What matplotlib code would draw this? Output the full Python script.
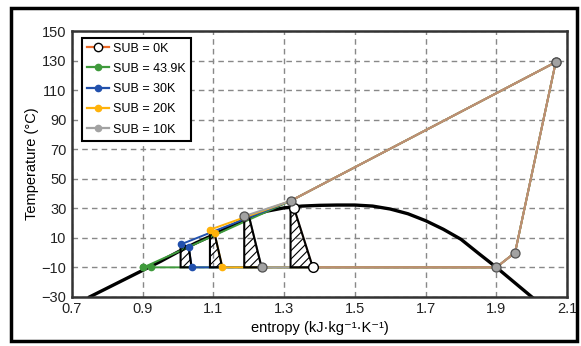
import matplotlib
matplotlib.use("Agg")
import matplotlib.pyplot as plt
from matplotlib.lines import Line2D
from matplotlib.patches import Polygon, Rectangle

plt.rcParams['font.family'] = ['Liberation Sans', 'DejaVu Sans']
plt.rcParams['hatch.linewidth'] = 0.8

# saturation dome
dome_s = [0.75, 0.80, 0.85, 0.90, 0.95, 1.00, 1.05, 1.10, 1.15, 1.20, 1.25, 1.30, 1.35,
          1.40, 1.45, 1.50, 1.55, 1.60, 1.65, 1.70, 1.75, 1.80, 1.85, 1.90, 1.95, 2.00]
dome_T = [-30, -24, -18, -12, -6, 0.5, 6.5, 12, 18, 24, 28, 30.3, 31.5,
          32, 32.2, 32.2, 31.5, 29.5, 26.3, 21.6, 15.8, 9, -0.6, -10, -20, -30]

# shared cycle points: evaporator exit, superheat, compressor exit, gas cooler
s_evap, T_evap = 1.90, -10
s_sh, T_sh = 1.953, 0
s_comp, T_comp = 2.068, 129
s_gc, T_gc = 1.318, 35

# per-cycle points: subcooled outlet, dome crossing, evaporator inlet
labels = ['SUB = 0K', 'SUB = 43.9K', 'SUB = 30K', 'SUB = 20K', 'SUB = 10K']
colors = ['#ec6a28', '#3f9a3c', '#2150ad', '#ffb20a', '#a2a2a2']
s_sub = [1.318, 0.902, 1.007, 1.090, 1.187]
T_sub = [35, -10, 5.5, 15.5, 24.7]
s_x = [1.328, 0.902, 1.030, 1.103, 1.202]
T_x = [30, -10, 4.0, 13.0, 23.0]
s_in = [1.381, 0.922, 1.038, 1.125, 1.236]

fig = plt.figure(figsize=(5.81, 3.46), dpi=100)
ax = fig.add_axes([0.124, 0.142, 0.852, 0.768])

ax.plot(dome_s, dome_T, color='black', lw=2.4, zorder=2)

def cycle(i):
    s = [s_comp, s_gc, s_sub[i], s_x[i], s_in[i], s_evap, s_sh, s_comp]
    T = [T_comp, T_gc, T_sub[i], T_x[i], T_evap, T_evap, T_sh, T_comp]
    return s, T

# lines: green, blue, yellow, grey, then orange see-through on top
for i in [1, 2, 3, 4]:
    s, T = cycle(i)
    ax.plot(s, T, color=colors[i], lw=1.4, zorder=3)
s, T = cycle(0)
ax.plot(s, T, color=colors[0], lw=1.4, alpha=0.35, zorder=3.2)

# hatched expansion areas
for i in range(5):
    if T_sub[i] <= T_evap:
        continue
    pts = [(s_sub[i], T_sub[i]), (s_x[i], T_x[i]), (s_in[i], T_evap), (s_sub[i], T_evap)]
    ax.add_patch(Polygon(pts, closed=True, facecolor='none', edgecolor='black',
                         lw=1.5, hatch='////', zorder=3.5))

# markers
for i in [1, 2, 3]:
    s, T = cycle(i)
    ax.plot(s[2:5], T[2:5], 'o', color=colors[i], ms=4.5, zorder=4)
s, T = cycle(0)
ax.plot(s[3:5], T[3:5], 'o', mfc='white', mec='black', mew=1, ms=7, zorder=4.2)
s, T = cycle(4)
ax.plot(s[:3] + s[4:], T[:3] + T[4:], 'o', mfc=colors[4], mec='#505050',
        mew=0.9, ms=6.5, zorder=4.5)

ax.set_xlim(0.7, 2.1)
ax.set_ylim(-30, 150)
ax.set_xticks([0.7, 0.9, 1.1, 1.3, 1.5, 1.7, 1.9, 2.1])
ax.set_xticklabels(['0.7', '0.9', '1.1', '1.3', '1.5', '1.7', '1.9', '2.1'])
yt = list(range(-30, 151, 20))
ax.set_yticks(yt)
ax.set_yticklabels([str(v).replace('-', '\u2212') for v in yt])
ax.tick_params(length=0, labelsize=10.5, pad=4, colors='#222222')
ax.grid(True, ls=(0, (4, 3)), color='#888888', lw=1)
ax.set_axisbelow(True)
for sp in ax.spines.values():
    sp.set_linewidth(1.8)
    sp.set_color('#333333')

ax.set_xlabel('entropy (kJ\u00b7kg\u207b\u00b9\u00b7K\u207b\u00b9)', fontsize=10.5, labelpad=3)
ax.set_ylabel('Temperature (\u00b0C)', fontsize=10.5, labelpad=2)

handles = []
handles.append(Line2D([], [], color=colors[0], lw=1.6, marker='o', mfc='white',
                      mec='black', mew=1, ms=6))
for i in [1, 2, 3, 4]:
    handles.append(Line2D([], [], color=colors[i], lw=1.6, marker='o', ms=4.5))
leg = ax.legend(handles, labels, loc='upper left', bbox_to_anchor=(0.012, 0.99),
                fontsize=9, frameon=True, fancybox=False, edgecolor='black',
                framealpha=1, handlelength=1.8, handletextpad=0.3,
                labelspacing=0.66, borderpad=0.4, borderaxespad=0.3)
leg.get_frame().set_linewidth(1.5)

# outer frame round the figure
fig.patches.append(Rectangle((11 / 581, 5 / 346), 566 / 581, 333 / 346,
                             transform=fig.transFigure, fill=False,
                             edgecolor='black', lw=2.5))

fig.savefig('out.png', dpi=100)
